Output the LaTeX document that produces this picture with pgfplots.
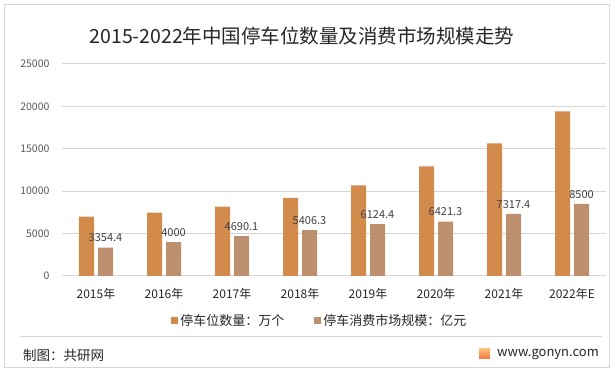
\documentclass[border=0pt]{standalone}
\usepackage{pgfplots}
\pgfplotsset{compat=1.18}
\usepackage{fontspec}
\setmainfont{Noto Sans CJK SC}
\definecolor{barA}{RGB}{211,139,76}
\definecolor{barB}{RGB}{188,143,110}
\definecolor{txt}{RGB}{64,64,64}
\definecolor{ticktxt}{RGB}{89,89,89}
\definecolor{gridc}{RGB}{214,214,214}
\definecolor{logoA}{RGB}{245,120,60}
\definecolor{logoB}{RGB}{250,190,120}
\begin{document}
\begin{tikzpicture}[x=1pt,y=1pt]
\path[use as bounding box] (0,0) rectangle (615,374);
\draw[draw=gridc, line width=1pt, fill=white] (4,6) rectangle (609,369);
\node[font=\fontsize{19.5}{21}\selectfont, text=black!85] at (302,338) {2015-2022年中国停车位数量及消费市场规模走势};
\draw[gridc, line width=1pt] (20,37) -- (602,37);
\node[anchor=west, font=\fontsize{13.5}{15}\selectfont, text=black!85, inner sep=0pt] at (23,19) {制图：共研网};
\shade[top color=logoB, bottom color=logoA] (479,15) rectangle (490,25);
\node[anchor=west, font=\fontsize{13}{15}\selectfont, text=black!85, inner sep=0pt] at (497,19) {www.gonyn.com};
\begin{axis}[
  at={(62pt,98pt)}, anchor=south west,
  scale only axis, width=544pt, height=212pt,
  xmin=-0.5, xmax=7.5, ymin=0, ymax=25000,
  xtick={0,...,7},
  xticklabels={2015年,2016年,2017年,2018年,2019年,2020年,2021年,2022年E},
  ytick={0,5000,...,25000},
  scaled y ticks=false,
  ymajorgrids, grid style={gridc, line width=1pt},
  separate axis lines,
  axis x line*=bottom, axis y line*=left,
  x axis line style={gridc, line width=1pt, -},
  y axis line style={draw=none},
  major tick length=0pt,
  /pgf/number format/1000 sep={},
  /pgf/number format/assume math mode=true,
  yticklabel style={font=\fontsize{10.5}{12}\selectfont, text=ticktxt, anchor=east, xshift=-9pt},
  xticklabel style={font=\fontsize{12}{13}\selectfont, text=black!85, yshift=-9pt},
  ybar, bar width=15pt,
  legend columns=2,
  legend style={draw=none, fill=none, at={(0.474,-0.211)}, anchor=center,
    font=\fontsize{13}{15}\selectfont, text=black!85,
    /tikz/every even column/.append style={column sep=28pt}},
  clip=false,
]
\addplot[draw=none, fill=barA, bar shift=-9.5pt,
  legend image code/.code={\fill[barA] (0pt,-3.5pt) rectangle (7pt,3.5pt);}]
  coordinates {(0,6990) (1,7460) (2,8170) (3,9200) (4,10700) (5,12940) (6,15650) (7,19420)};
\addlegendentry{停车位数量：万个}
\addplot[draw=none, fill=barB, bar shift=9.5pt,
  nodes near coords, point meta=explicit symbolic,
  every node near coord/.append style={font=\fontsize{11}{13}\selectfont, text=txt, anchor=south, yshift=2pt},
  legend image code/.code={\fill[barB] (0pt,-3.5pt) rectangle (7pt,3.5pt);}]
  coordinates {(0,3354.4)[3354.4] (1,4000)[4000] (2,4690.1)[4690.1] (3,5406.3)[5406.3] (4,6124.4)[6124.4] (5,6421.3)[6421.3] (6,7317.4)[7317.4] (7,8500)[8500]};
\addlegendentry{停车消费市场规模：亿元}
\end{axis}
\end{tikzpicture}
\end{document}
